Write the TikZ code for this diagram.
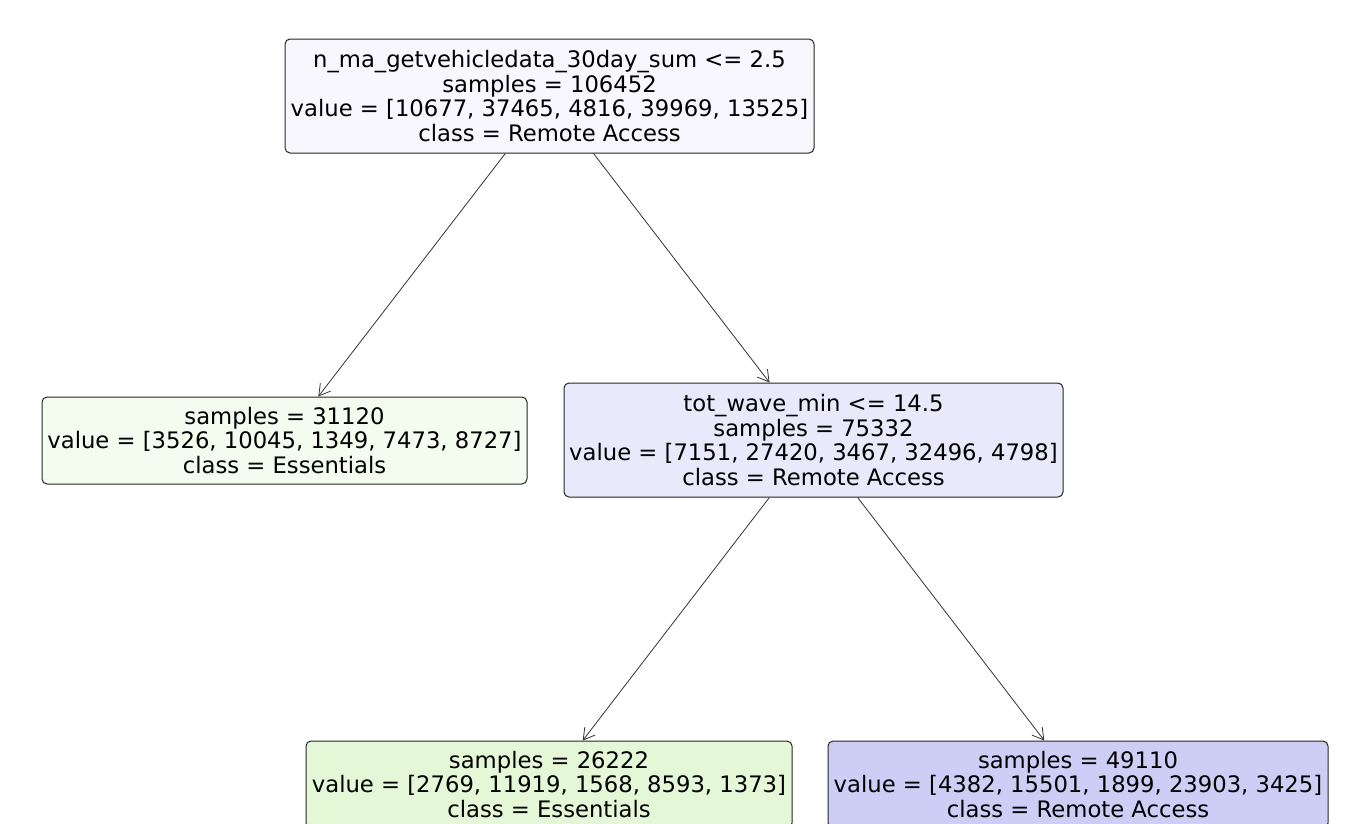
\documentclass[tikz,border=0pt]{standalone}
\usepackage{fontspec}
\setmainfont{DejaVu Sans}
\usetikzlibrary{arrows.meta}
\definecolor{rootfill}{HTML}{F8F7FE}
\definecolor{leftfill}{HTML}{F4FBEF}
\definecolor{midfill}{HTML}{EAE9FC}
\definecolor{essfill}{HTML}{E4F7D7}
\definecolor{remfill}{HTML}{CECDF6}
\tikzset{
  treenode/.style={draw=black!85, line width=1pt, rounded corners=5pt,
    inner sep=0pt, align=center,
    font=\fontsize{22.7pt}{24.7pt}\selectfont},
  edge/.style={draw=black!80, line width=0.8pt,
    -{Straight Barb[length=11pt,width=13pt,line width=0.8pt]}}
}
\begin{document}
\begin{tikzpicture}[x=1pt,y=-1pt]
\useasboundingbox (0,0) rectangle (1351,823);
\fill[white] (0,0) rectangle (1351,823);
\clip (0,0) rectangle (1351,823);

\node[treenode, fill=rootfill, minimum width=529pt, minimum height=114pt]
  (root) at (549.5,96)
  {n\_ma\_getvehicledata\_30day\_sum <= 2.5\\samples = 106452\\value = [10677, 37465, 4816, 39969, 13525]\\class = Remote Access};

\node[treenode, fill=leftfill, minimum width=485pt, minimum height=87pt]
  (left) at (284.5,440.5)
  {samples = 31120\\value = [3526, 10045, 1349, 7473, 8727]\\class = Essentials};

\node[treenode, fill=midfill, minimum width=499pt, minimum height=114pt]
  (mid) at (813.5,440)
  {tot\_wave\_min <= 14.5\\samples = 75332\\value = [7151, 27420, 3467, 32496, 4798]\\class = Remote Access};

\node[treenode, fill=essfill, minimum width=486pt, minimum height=87pt]
  (bl) at (549,784.5)
  {samples = 26222\\value = [2769, 11919, 1568, 8593, 1373]\\class = Essentials};

\node[treenode, fill=remfill, minimum width=500pt, minimum height=87pt]
  (br) at (1078,784.5)
  {samples = 49110\\value = [4382, 15501, 1899, 23903, 3425]\\class = Remote Access};

\draw[edge] (root) -- (left);
\draw[edge] (root) -- (mid);
\draw[edge] (mid) -- (bl);
\draw[edge] (mid) -- (br);
\end{tikzpicture}
\end{document}
